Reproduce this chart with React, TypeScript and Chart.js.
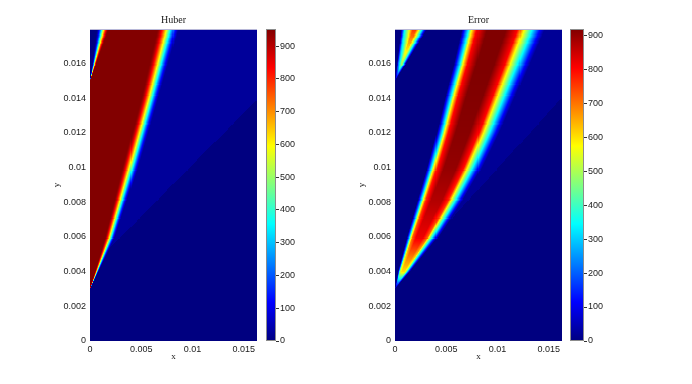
import React, { useEffect, useRef } from "react";
import { Chart, registerables } from "chart.js";
Chart.register(...registerables);

// ---------- axes / ticks ----------
const X_MAX = 0.0163;
const Y_MAX = 0.018;
const xTickValues = [0, 0.005, 0.01, 0.015];
const xTickLabels = ["0", "0.005", "0.01", "0.015"];
const yTickValues = [0, 0.002, 0.004, 0.006, 0.008, 0.01, 0.012, 0.014, 0.016];
const yTickLabels = ["0", "0.002", "0.004", "0.006", "0.008", "0.01", "0.012", "0.014", "0.016"];
const cbTickValues = [0, 100, 200, 300, 400, 500, 600, 700, 800, 900];
const huberCbMax = 952;
const errorCbMax = 918;
const titles = ["Huber", "Error"];

// ---------- Huber field ----------
const huberPlateau = 950;
const huberFrontY = [0.003, 0.006, 0.01, 0.014, 0.018];
const huberFrontRedEnd = [0, 0.0015, 0.0032, 0.005, 0.0066];
const huberFrontBlueStart = [0, 0.0026, 0.0049, 0.0069, 0.0089];
const huberTrailY = [0.015, 0.018];
const huberTrailBlueEnd = [0, 0.00065];
const huberTrailRedStart = [0, 0.0019];
const huberFaintX = [0.00114, 0.0163];
const huberFaintY = [0.00486, 0.0139];
const huberFaintValue = 25;

// ---------- Error field ----------
const errBandY = [0.003, 0.004, 0.006, 0.008, 0.01, 0.012, 0.014, 0.016, 0.018];
const errBandStart = [0, 0.0003, 0.0012, 0.0022, 0.0032, 0.0041, 0.0049, 0.0058, 0.0066];
const errBandEnd = [0, 0.0015, 0.0043, 0.0066, 0.0086, 0.0103, 0.0118, 0.0133, 0.0148];
const errBandPeak = [0, 600, 820, 870, 900, 910, 915, 918, 920];
const errBandProfileU = [0, 0.048, 0.083, 0.119, 0.179, 0.298, 0.524, 0.667, 0.738, 0.833, 0.929, 1];
const errBandProfileV = [0, 0.22, 0.375, 0.625, 0.875, 1, 1, 0.875, 0.625, 0.375, 0.125, 0];
const errWedgeY = [0.015, 0.016, 0.018];
const errWedgeStart = [0, 0.0002, 0.0006];
const errWedgeEnd = [0, 0.0011, 0.0032];
const errWedgePeak = [0, 480, 760];
const errWedgeProfileU = [0, 0.05, 0.14, 0.33, 0.46, 0.58, 0.7, 0.82, 0.93, 1];
const errWedgeProfileV = [0, 0.15, 0.45, 0.76, 1, 1, 0.76, 0.45, 0.15, 0];
const errFaintX = [0.0065, 0.0163];
const errFaintY = [0.00766, 0.014];
const errFaintValue = 20;

const GRID_NX = 163;
const GRID_NY = 312;

function interp(xs: number[], ys: number[], v: number) {
  if (v <= xs[0]) return ys[0];
  const n = xs.length;
  if (v >= xs[n - 1]) return ys[n - 1];
  for (let i = 0; i < n - 1; i++) {
    if (v >= xs[i] && v <= xs[i + 1]) {
      const f = (v - xs[i]) / (xs[i + 1] - xs[i]);
      return ys[i] + f * (ys[i + 1] - ys[i]);
    }
  }
  return ys[n - 1];
}
function lineX(xs: number[], ys: number[], y: number) {
  return xs[0] + ((y - ys[0]) * (xs[1] - xs[0])) / (ys[1] - ys[0]);
}
function smooth(u: number) {
  const t = Math.max(0, Math.min(1, u));
  return t * t * (3 - 2 * t);
}

function huberValue(x: number, y: number) {
  let lead = 0;
  if (y >= huberFrontY[0]) {
    const a = interp(huberFrontY, huberFrontRedEnd, y);
    const b = interp(huberFrontY, huberFrontBlueStart, y);
    if (x <= a) lead = 1;
    else if (x >= b) lead = 0;
    else lead = 1 - smooth((x - a) / (b - a));
  }
  let trail = 1;
  if (y >= huberTrailY[0]) {
    const a = interp(huberTrailY, huberTrailBlueEnd, y);
    const b = interp(huberTrailY, huberTrailRedStart, y);
    if (x <= a) trail = 0;
    else if (x >= b) trail = 1;
    else trail = smooth((x - a) / (b - a));
  }
  let v = huberPlateau * Math.min(lead, trail);
  if (y >= huberFrontY[0] && lead < 0.5 && x < lineX(huberFaintX, huberFaintY, y)) {
    v = Math.max(v, huberFaintValue);
  }
  return v;
}

function bandValue(
  ys: number[], starts: number[], ends: number[], peaks: number[],
  pu: number[], pv: number[], x: number, y: number
) {
  if (y < ys[0]) return 0;
  const s = interp(ys, starts, y);
  const e = interp(ys, ends, y);
  if (x <= s || x >= e) return 0;
  return interp(ys, peaks, y) * interp(pu, pv, (x - s) / (e - s));
}

function errorValue(x: number, y: number) {
  const a = bandValue(errBandY, errBandStart, errBandEnd, errBandPeak, errBandProfileU, errBandProfileV, x, y);
  const w = bandValue(errWedgeY, errWedgeStart, errWedgeEnd, errWedgePeak, errWedgeProfileU, errWedgeProfileV, x, y);
  let v = Math.max(a, w);
  if (y >= errBandY[0]) {
    const mid = (interp(errBandY, errBandStart, y) + interp(errBandY, errBandEnd, y)) / 2;
    if (x > mid && x < lineX(errFaintX, errFaintY, y)) v = Math.max(v, errFaintValue);
  }
  return v;
}

function jet(t: number) {
  const c = (v: number) => Math.max(0, Math.min(1, v));
  const r = c(Math.min(4 * t - 1.5, -4 * t + 4.5));
  const g = c(Math.min(4 * t - 0.5, -4 * t + 3.5));
  const b = c(Math.min(4 * t + 0.5, -4 * t + 2.5));
  return `rgb(${Math.round(r * 255)},${Math.round(g * 255)},${Math.round(b * 255)})`;
}

const tickFont = { family: "'Liberation Sans', Arial, sans-serif", size: 9 };
const TEXT = "#1a1a1a";

function heatmapPlugin(field: (x: number, y: number) => number, vmax: number, title: string) {
  return {
    id: "heatmap",
    beforeDatasetsDraw(chart: any) {
      const ctx = chart.ctx;
      const xs = chart.scales.x;
      const ys = chart.scales.y;
      const dx = X_MAX / GRID_NX;
      const dy = Y_MAX / GRID_NY;
      ctx.save();
      for (let i = 0; i < GRID_NX; i++) {
        const x0 = i * dx;
        const px0 = Math.floor(xs.getPixelForValue(x0));
        const px1 = Math.ceil(xs.getPixelForValue(x0 + dx));
        for (let j = 0; j < GRID_NY; j++) {
          const y0 = j * dy;
          const py0 = Math.ceil(ys.getPixelForValue(y0));
          const py1 = Math.floor(ys.getPixelForValue(y0 + dy));
          const v = field(x0 + dx / 2, y0 + dy / 2);
          ctx.fillStyle = jet(Math.min(1, v / vmax));
          ctx.fillRect(px0, py1, px1 - px0, py0 - py1);
        }
      }
      ctx.restore();
    },
    afterDraw(chart: any) {
      const ctx = chart.ctx;
      const a = chart.chartArea;
      ctx.save();
      ctx.strokeStyle = "#b8b8d8";
      ctx.lineWidth = 1;
      ctx.beginPath();
      ctx.moveTo(a.left, a.top + 0.5);
      ctx.lineTo(a.right, a.top + 0.5);
      ctx.stroke();
      ctx.fillStyle = TEXT;
      ctx.textAlign = "center";
      ctx.textBaseline = "alphabetic";
      ctx.font = "10px 'Liberation Serif', 'Times New Roman', serif";
      ctx.fillText(title, (a.left + a.right) / 2, a.top - 6);
      ctx.font = "9px 'Liberation Serif', 'Times New Roman', serif";
      ctx.textBaseline = "middle";
      ctx.fillText("x", (a.left + a.right) / 2, a.bottom + 16);
      ctx.translate(a.left - 33, (a.top + a.bottom) / 2);
      ctx.rotate(-Math.PI / 2);
      ctx.fillText("y", 0, 0);
      ctx.restore();
    },
  };
}

function colorbarPlugin() {
  return {
    id: "colorbar",
    beforeDatasetsDraw(chart: any) {
      const ctx = chart.ctx;
      const a = chart.chartArea;
      const ys = chart.scales.y;
      const top = ys.getPixelForValue(ys.max);
      const bottom = ys.getPixelForValue(0);
      const grad = ctx.createLinearGradient(0, bottom, 0, top);
      for (let k = 0; k <= 64; k++) grad.addColorStop(k / 64, jet(k / 64));
      ctx.save();
      ctx.fillStyle = grad;
      ctx.fillRect(a.left, top, a.right - a.left, bottom - top);
      ctx.strokeStyle = "#8c8c8c";
      ctx.lineWidth = 1;
      ctx.strokeRect(a.left + 0.5, top + 0.5, a.right - a.left - 1, bottom - top - 1);
      ctx.restore();
    },
  };
}

function mainConfig(field: (x: number, y: number) => number, vmax: number, title: string, padLeft: number) {
  return {
    type: "scatter" as const,
    data: { datasets: [] },
    options: {
      animation: false,
      responsive: false,
      events: [],
      layout: { padding: { left: padLeft, right: 5, top: 29, bottom: 13 } },
      plugins: { legend: { display: false }, tooltip: { enabled: false }, title: { display: false } },
      scales: {
        x: {
          type: "linear",
          min: 0,
          max: X_MAX,
          grid: { display: false, drawTicks: false, tickLength: 0 },
          border: { display: false },
          afterBuildTicks: (s: any) => { s.ticks = xTickValues.map((v) => ({ value: v })); },
          afterFit: (s: any) => { s.height = 30; },
          ticks: {
            autoSkip: false, maxRotation: 0, padding: 3, font: tickFont, color: TEXT,
            callback: (_v: any, i: number) => xTickLabels[i],
          },
        },
        y: {
          type: "linear",
          min: 0,
          max: Y_MAX,
          grid: { display: false, drawTicks: false, tickLength: 0 },
          border: { display: false },
          afterBuildTicks: (s: any) => { s.ticks = yTickValues.map((v) => ({ value: v })); },
          afterFit: (s: any) => { s.width = 50; },
          ticks: {
            autoSkip: false, padding: 4, font: tickFont, color: TEXT,
            callback: (_v: any, i: number) => yTickLabels[i],
          },
        },
      },
    },
    plugins: [heatmapPlugin(field, vmax, title)],
  };
}

function cbConfig(vmax: number) {
  return {
    type: "scatter" as const,
    data: { datasets: [] },
    options: {
      animation: false,
      responsive: false,
      events: [],
      layout: { padding: { left: 4, right: 0, top: 29, bottom: 43 } },
      plugins: { legend: { display: false }, tooltip: { enabled: false } },
      scales: {
        x: { display: false, min: 0, max: 1 },
        y: {
          type: "linear",
          position: "right",
          min: 0,
          max: vmax,
          grid: { display: true, drawOnChartArea: false, drawTicks: true, tickLength: 3, color: "#333" },
          border: { display: false },
          afterBuildTicks: (s: any) => { s.ticks = cbTickValues.map((v) => ({ value: v })); },
          afterFit: (s: any) => { s.width = 30; },
          ticks: { autoSkip: false, padding: 1, font: tickFont, color: TEXT, callback: (v: any) => String(v) },
        },
      },
    },
    plugins: [colorbarPlugin()],
  };
}

function ChartCanvas({ config, left, width }: { config: any; left: number; width: number }) {
  const ref = useRef<HTMLCanvasElement | null>(null);
  useEffect(() => {
    if (!ref.current) return;
    const chart = new Chart(ref.current, config);
    return () => chart.destroy();
  }, []);
  return (
    <canvas
      ref={ref}
      width={width}
      height={384}
      style={{ position: "absolute", left, top: 0, width, height: 384 }}
    />
  );
}

export default function App() {
  return (
    <div
      style={{
        position: "fixed", left: 0, top: 0, width: 692, height: 384,
        background: "#fff", overflow: "hidden",
      }}
    >
      <ChartCanvas config={mainConfig(huberValue, huberCbMax, titles[0], 40)} left={0} width={262} />
      <ChartCanvas config={cbConfig(huberCbMax)} left={262} width={44} />
      <ChartCanvas config={mainConfig(errorValue, errorCbMax, titles[1], 43)} left={302} width={265} />
      <ChartCanvas config={cbConfig(errorCbMax)} left={566} width={48} />
    </div>
  );
}
